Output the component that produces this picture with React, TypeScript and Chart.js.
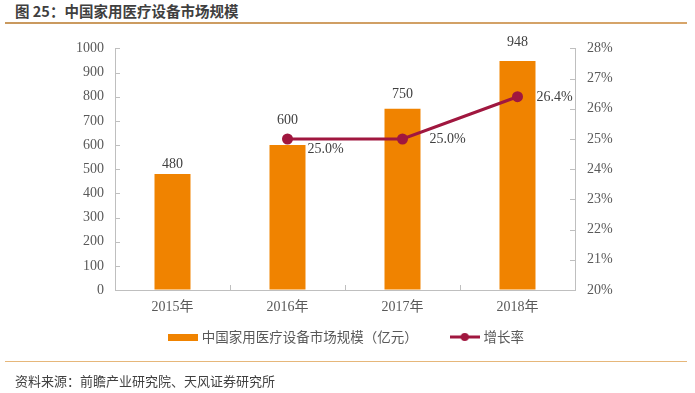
import React, { useEffect, useRef } from 'react';
import { Chart, registerables } from 'chart.js';

Chart.register(...registerables);

// ---- data ----
const years = ['2015年', '2016年', '2017年', '2018年'];
const marketSize = [480, 600, 750, 948];
const growthRate = [null, 25.0, 25.0, 26.4];
const growthLabels = ['', '25.0%', '25.0%', '26.4%'];
const barSeriesName = '中国家用医疗设备市场规模（亿元）';
const lineSeriesName = '增长率';
const titleText = '图 25：中国家用医疗设备市场规模';
const sourceText = '资料来源：前瞻产业研究院、天风证券研究所';

// ---- styling (label placement offsets, not data) ----
const barLabelGap = [10, 25, 14, 19];
const rateLabelShift = [
  [0, 0],
  [20, 10],
  [27, 0],
  [19, 1],
];

const ORANGE = '#F08300';
const CRIMSON = '#A0173F';
const AXIS = '#BFBFBF';
const SERIF = '"Liberation Serif", "Times New Roman", "Noto Sans CJK SC", serif';
const SANS = '"Noto Sans CJK SC", "Noto Sans", sans-serif';
const LEGEND_FONT = 13.5;
const LEGEND_PAD = 35;
const LEGEND_CENTER_Y = 309; // canvas coordinates

function makeBarIcon() {
  const c = document.createElement('canvas');
  c.width = 30;
  c.height = 7;
  const g = c.getContext('2d')!;
  g.fillStyle = ORANGE;
  g.fillRect(0, 0, 30, 7);
  return c;
}

function makeLineIcon() {
  const c = document.createElement('canvas');
  c.width = 30;
  c.height = 10;
  const g = c.getContext('2d')!;
  g.strokeStyle = CRIMSON;
  g.lineWidth = 3;
  g.beginPath();
  g.moveTo(0, 5);
  g.lineTo(30, 5);
  g.stroke();
  g.fillStyle = CRIMSON;
  g.beginPath();
  g.arc(15, 5, 4, 0, Math.PI * 2);
  g.fill();
  return c;
}

const legendLift = {
  id: 'legendLift',
  afterLayout(chart: any) {
    const lg = chart.legend;
    if (!lg) return;
    const cur = lg.top + LEGEND_PAD + LEGEND_FONT / 2;
    const d = cur - LEGEND_CENTER_Y;
    lg.top -= d;
    lg.bottom -= d;
  },
};

const innerTicks = {
  id: 'innerTicks',
  afterDraw(chart: any) {
    const { ctx, chartArea, scales } = chart;
    ctx.save();
    ctx.strokeStyle = AXIS;
    ctx.lineWidth = 1;
    ctx.beginPath();
    const y = scales.y;
    y.ticks.forEach((_t: any, i: number) => {
      const py = Math.round(y.getPixelForTick(i)) + 0.5;
      ctx.moveTo(chartArea.left, py);
      ctx.lineTo(chartArea.left + 5, py);
    });
    const y1 = scales.y1;
    y1.ticks.forEach((_t: any, i: number) => {
      const py = Math.round(y1.getPixelForTick(i)) + 0.5;
      ctx.moveTo(chartArea.right - 5, py);
      ctx.lineTo(chartArea.right, py);
    });
    const x = scales.x;
    for (let i = 0; i < years.length - 1; i++) {
      const px = Math.round(x.getPixelForValue(i + 0.5)) + 0.5;
      ctx.moveTo(px, chartArea.bottom);
      ctx.lineTo(px, chartArea.bottom - 5);
    }
    ctx.stroke();
    ctx.restore();
  },
};

const valueLabels = {
  id: 'valueLabels',
  afterDatasetsDraw(chart: any) {
    const { ctx } = chart;
    ctx.save();
    ctx.font = `14px ${SERIF}`;
    ctx.fillStyle = '#404040';
    ctx.textBaseline = 'middle';
    const barMeta = chart.getDatasetMeta(0);
    ctx.textAlign = 'center';
    barMeta.data.forEach((el: any, i: number) => {
      ctx.fillText(String(marketSize[i]), el.x, el.y - barLabelGap[i]);
    });
    const lineMeta = chart.getDatasetMeta(1);
    ctx.textAlign = 'left';
    lineMeta.data.forEach((el: any, i: number) => {
      if (growthRate[i] == null) return;
      const [dx, dy] = rateLabelShift[i];
      ctx.fillText(growthLabels[i], el.x + dx, el.y + dy);
    });
    ctx.restore();
  },
};

export default function App() {
  const ref = useRef<HTMLCanvasElement | null>(null);

  useEffect(() => {
    document.body.style.margin = '0';
    const barIcon = makeBarIcon();
    const lineIcon = makeLineIcon();
    const chart = new Chart(ref.current!, {
      type: 'bar',
      data: {
        labels: years,
        datasets: [
          {
            type: 'bar',
            label: barSeriesName,
            data: marketSize,
            backgroundColor: ORANGE,
            yAxisID: 'y',
            categoryPercentage: 1,
            barPercentage: 0.313,
            order: 2,
          },
          {
            type: 'line',
            label: lineSeriesName,
            data: growthRate as any,
            borderColor: CRIMSON,
            backgroundColor: CRIMSON,
            borderWidth: 3,
            pointRadius: 4,
            pointBackgroundColor: CRIMSON,
            pointBorderColor: CRIMSON,
            yAxisID: 'y1',
            order: 1,
          },
        ],
      } as any,
      options: {
        animation: false,
        responsive: false,
        maintainAspectRatio: false,
        layout: { autoPadding: false, padding: { top: 17, left: 0, right: 0, bottom: 3.5 } },
        plugins: {
          tooltip: { enabled: false },
          legend: {
            position: 'bottom',
            labels: {
              usePointStyle: true,
              pointStyleWidth: 24,
              padding: LEGEND_PAD,
              color: '#595959',
              font: { size: LEGEND_FONT, family: SANS },
              generateLabels: () => [
                {
                  text: barSeriesName,
                  pointStyle: barIcon as any,
                  fillStyle: ORANGE,
                  strokeStyle: ORANGE,
                  lineWidth: 0,
                  hidden: false,
                  datasetIndex: 0,
                  fontColor: '#595959',
                },
                {
                  text: lineSeriesName,
                  pointStyle: lineIcon as any,
                  fillStyle: CRIMSON,
                  strokeStyle: CRIMSON,
                  lineWidth: 0,
                  hidden: false,
                  datasetIndex: 1,
                  fontColor: '#595959',
                },
              ],
            },
          },
        },
        scales: {
          x: {
            offset: true,
            grid: { display: true, drawOnChartArea: false, drawTicks: false, offset: true },
            border: { display: true, color: AXIS, width: 1 },
            ticks: { color: '#595959', font: { size: 14, family: SERIF }, padding: 9 },
            afterFit: (s: any) => {
              s.height = 26;
            },
          },
          y: {
            position: 'left',
            min: 0,
            max: 1000,
            grid: { drawOnChartArea: false, drawTicks: false },
            border: { display: true, color: AXIS, width: 1 },
            ticks: {
              stepSize: 100,
              color: '#595959',
              font: { size: 14, family: SERIF },
              padding: 11,
              callback: (v: any) => String(v),
            },
            afterFit: (s: any) => {
              s.width = 115;
            },
          },
          y1: {
            position: 'right',
            min: 20,
            max: 28,
            grid: { drawOnChartArea: false, drawTicks: false },
            border: { display: true, color: AXIS, width: 1 },
            ticks: {
              stepSize: 1,
              color: '#595959',
              font: { size: 14, family: SERIF },
              padding: 12,
              callback: (v: any) => `${v}%`,
            },
            afterFit: (s: any) => {
              s.width = 120;
            },
          },
        },
      } as any,
      plugins: [legendLift, innerTicks, valueLabels],
    });
    return () => chart.destroy();
  }, []);

  return (
    <div
      style={{
        position: 'absolute',
        left: 0,
        top: 0,
        width: 695,
        height: 393,
        background: '#fff',
        overflow: 'hidden',
      }}
    >
      <div
        style={{
          position: 'absolute',
          left: 15,
          top: 2,
          fontFamily: SANS,
          fontWeight: 700,
          fontSize: 14.5,
          lineHeight: '18px',
          color: '#3F3F3F',
          whiteSpace: 'nowrap',
        }}
      >
        {titleText}
      </div>
      <div
        style={{
          position: 'absolute',
          left: 5,
          top: 22,
          width: 682,
          height: 2,
          background: 'linear-gradient(to right, #C9995E, #D7A56A)',
        }}
      />
      <canvas
        ref={ref}
        width={695}
        height={350}
        style={{ position: 'absolute', left: 0, top: 28, width: 695, height: 350 }}
      />
      <div
        style={{
          position: 'absolute',
          left: 5,
          top: 361,
          width: 682,
          height: 1,
          background: '#E6B77A',
          zIndex: 2,
        }}
      />
      <div
        style={{
          position: 'absolute',
          left: 15,
          top: 373,
          fontFamily: SANS,
          fontSize: 13,
          lineHeight: '16px',
          color: '#404040',
          whiteSpace: 'nowrap',
          zIndex: 2,
        }}
      >
        {sourceText}
      </div>
    </div>
  );
}
